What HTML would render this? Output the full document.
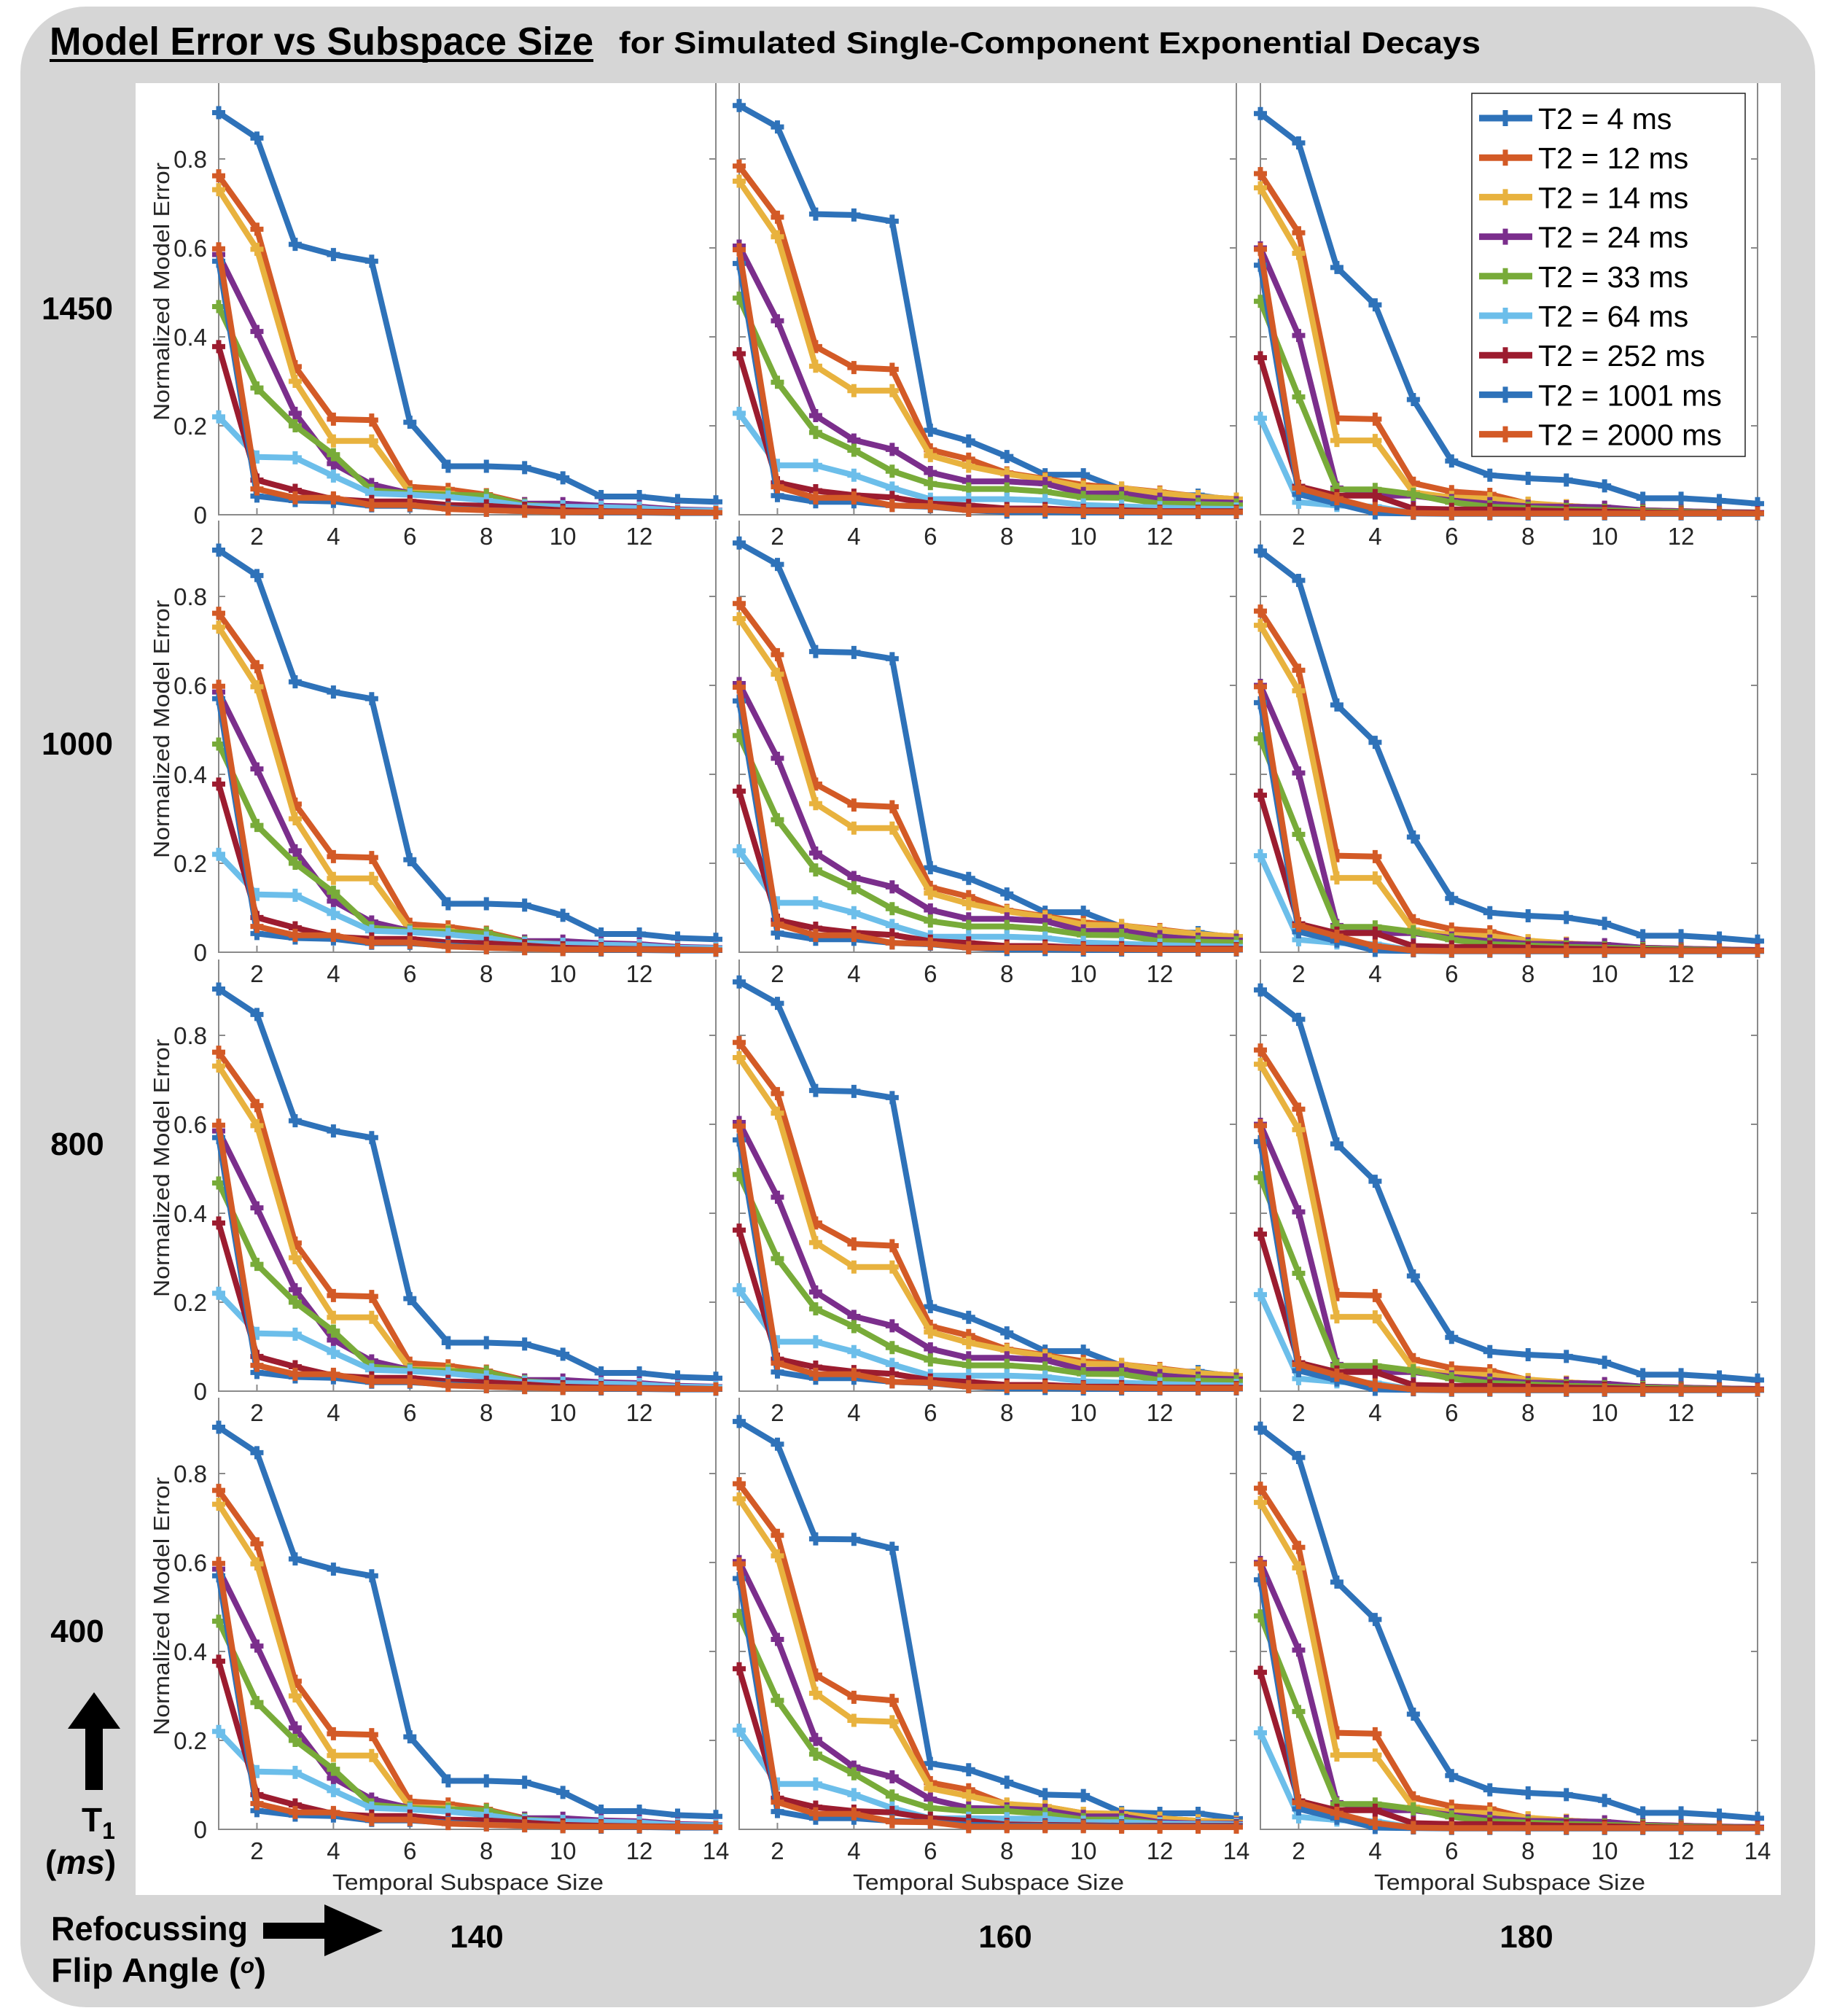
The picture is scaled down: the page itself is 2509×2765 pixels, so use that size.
<!DOCTYPE html>
<html><head><meta charset="utf-8"><style>
html,body{margin:0;padding:0;background:#fff;}
svg{display:block;}
</style></head><body>
<svg id="fig" width="2509" height="2765" viewBox="0 0 2509 2765" xmlns="http://www.w3.org/2000/svg" font-family="'Liberation Sans', sans-serif">
<rect x="28" y="9" width="2462" height="2744" rx="90" ry="90" fill="#d6d6d6"/>
<rect x="186" y="114" width="2257" height="2485" fill="#ffffff"/>
<text x="68" y="75" font-size="54" font-weight="bold" textLength="746" lengthAdjust="spacingAndGlyphs">Model Error vs Subspace Size</text>
<rect x="68" y="81" width="746" height="4" fill="#000"/>
<text x="849" y="73" font-size="42" font-weight="bold" textLength="1182" lengthAdjust="spacingAndGlyphs">for Simulated Single-Component Exponential Decays</text>
<g id="rowlabels"></g>
<g id="panels"></g>
<polygon points="93,2371 129,2321 165,2371 141,2371 141,2455 117,2455 117,2371" fill="#000"/>
<text x="112" y="2512" font-size="46" font-weight="bold">T<tspan font-size="32" dy="10">1</tspan></text>
<text x="62" y="2570" font-size="46" font-weight="bold">(<tspan font-style="italic">ms</tspan>)</text>
<text x="70" y="2661" font-size="46" font-weight="bold" textLength="270" lengthAdjust="spacingAndGlyphs">Refocussing</text>
<text x="70" y="2718" font-size="46" font-weight="bold" textLength="295" lengthAdjust="spacingAndGlyphs">Flip Angle (<tspan font-style="italic" font-size="30" dy="-12">o</tspan><tspan dy="12">)</tspan></text>
<polygon points="361,2637 445,2637 445,2612 525,2648 445,2683 445,2659 361,2659" fill="#000"/>
<text x="654" y="2671" font-size="44" font-weight="bold" text-anchor="middle">140</text>
<text x="1379" y="2671" font-size="44" font-weight="bold" text-anchor="middle">160</text>
<text x="2094" y="2671" font-size="44" font-weight="bold" text-anchor="middle">180</text>
</svg>
<script>
// ---- chart data ----
const subspaceSizes = [1,2,3,4,5,6,7,8,9,10,11,12,13,14];
const seriesNames = ['T2 = 4 ms','T2 = 12 ms','T2 = 14 ms','T2 = 24 ms','T2 = 33 ms','T2 = 64 ms','T2 = 252 ms','T2 = 1001 ms','T2 = 2000 ms'];
const t1Labels = ['1450','1000','800','400'];
const flipLabels = ['140','160','180'];
const yTickValues = [0,0.2,0.4,0.6,0.8];
const yTickLabels = ['0','0.2','0.4','0.6','0.8'];
const xTickValues = [2,4,6,8,10,12,14];

// flip 140 (all T1 rows)
const f140 = [
 [0.904,0.847,0.608,0.585,0.570,0.208,0.109,0.109,0.106,0.083,0.041,0.041,0.032,0.029],
 [0.762,0.642,0.333,0.215,0.213,0.063,0.057,0.045,0.025,0.018,0.015,0.012,0.010,0.008],
 [0.731,0.597,0.300,0.166,0.166,0.050,0.048,0.035,0.022,0.015,0.012,0.010,0.008,0.007],
 [0.585,0.412,0.228,0.115,0.068,0.048,0.040,0.035,0.025,0.025,0.020,0.018,0.012,0.010],
 [0.468,0.285,0.200,0.135,0.055,0.048,0.045,0.043,0.022,0.018,0.015,0.012,0.010,0.008],
 [0.220,0.130,0.128,0.087,0.048,0.045,0.040,0.032,0.020,0.018,0.017,0.015,0.010,0.009],
 [0.378,0.078,0.055,0.035,0.030,0.030,0.022,0.020,0.015,0.010,0.008,0.007,0.006,0.005],
 [0.570,0.042,0.032,0.030,0.020,0.020,0.015,0.010,0.008,0.006,0.005,0.005,0.004,0.004],
 [0.598,0.058,0.038,0.038,0.022,0.022,0.013,0.010,0.008,0.006,0.006,0.006,0.005,0.005]
];
// flip 160 (T1 rows 1450/1000/800)
const f160 = [
 [0.920,0.872,0.676,0.674,0.660,0.190,0.166,0.131,0.090,0.090,0.057,0.044,0.044,0.032],
 [0.784,0.669,0.378,0.331,0.327,0.146,0.125,0.094,0.081,0.067,0.060,0.051,0.041,0.035],
 [0.750,0.625,0.334,0.279,0.279,0.133,0.109,0.092,0.079,0.062,0.060,0.049,0.041,0.035],
 [0.604,0.436,0.223,0.168,0.147,0.095,0.075,0.075,0.070,0.048,0.048,0.035,0.029,0.027],
 [0.487,0.298,0.185,0.145,0.098,0.070,0.058,0.058,0.052,0.039,0.038,0.025,0.024,0.022],
 [0.228,0.111,0.111,0.089,0.060,0.035,0.035,0.035,0.032,0.022,0.019,0.016,0.014,0.013],
 [0.362,0.072,0.054,0.044,0.039,0.025,0.021,0.014,0.014,0.010,0.010,0.008,0.008,0.008],
 [0.565,0.043,0.029,0.029,0.021,0.018,0.010,0.006,0.006,0.005,0.005,0.005,0.005,0.005],
 [0.596,0.063,0.038,0.038,0.021,0.019,0.010,0.010,0.010,0.008,0.007,0.006,0.006,0.006]
];
// flip 160 (T1 row 400)
const f160b = [
 [0.917,0.866,0.653,0.652,0.632,0.148,0.134,0.106,0.078,0.076,0.038,0.036,0.036,0.024],
 [0.777,0.661,0.347,0.297,0.290,0.105,0.089,0.056,0.051,0.036,0.035,0.025,0.019,0.016],
 [0.743,0.615,0.306,0.245,0.242,0.092,0.075,0.057,0.051,0.036,0.035,0.025,0.019,0.016],
 [0.602,0.427,0.202,0.140,0.118,0.068,0.048,0.046,0.043,0.029,0.029,0.016,0.013,0.013],
 [0.481,0.290,0.169,0.125,0.075,0.048,0.041,0.041,0.035,0.022,0.022,0.013,0.011,0.010],
 [0.223,0.102,0.102,0.078,0.048,0.025,0.025,0.024,0.024,0.016,0.016,0.013,0.012,0.011],
 [0.361,0.070,0.050,0.041,0.038,0.025,0.019,0.011,0.010,0.009,0.008,0.008,0.008,0.008],
 [0.564,0.040,0.025,0.025,0.019,0.016,0.010,0.008,0.008,0.007,0.007,0.006,0.006,0.006],
 [0.597,0.061,0.035,0.035,0.017,0.016,0.006,0.006,0.006,0.006,0.005,0.005,0.005,0.005]
];
// flip 180 (all T1 rows)
const f180 = [
 [0.902,0.836,0.556,0.472,0.259,0.121,0.089,0.082,0.078,0.065,0.037,0.037,0.032,0.025],
 [0.767,0.634,0.217,0.215,0.071,0.052,0.046,0.025,0.020,0.015,0.010,0.008,0.006,0.005],
 [0.735,0.588,0.167,0.167,0.050,0.039,0.036,0.026,0.020,0.015,0.010,0.008,0.006,0.005],
 [0.600,0.403,0.060,0.043,0.043,0.032,0.025,0.019,0.018,0.017,0.010,0.008,0.006,0.005],
 [0.480,0.265,0.057,0.057,0.046,0.028,0.018,0.015,0.012,0.010,0.008,0.006,0.005,0.004],
 [0.217,0.028,0.021,0.018,0.004,0.003,0.003,0.002,0.002,0.002,0.002,0.002,0.002,0.002],
 [0.353,0.064,0.043,0.043,0.014,0.012,0.012,0.010,0.008,0.007,0.005,0.004,0.004,0.004],
 [0.561,0.046,0.025,0.004,0.003,0.002,0.002,0.002,0.002,0.002,0.002,0.002,0.002,0.002],
 [0.597,0.060,0.036,0.014,0.004,0.003,0.003,0.003,0.003,0.003,0.003,0.003,0.003,0.003]
];
const panelData = [
 [f140, f160, f180],
 [f140, f160, f180],
 [f140, f160, f180],
 [f140, f160b, f180]
];

// ---- layout ----
const NS = 'http://www.w3.org/2000/svg';
const colors = ['#2E72B9','#D35A26','#E8B23E','#7B2E8C','#78AB39','#6CBEEA','#9C1C2F','#2E72B9','#D35A26'];
const colLeft = [300, 1014, 1729];
const axW = 682;
const rowY0 = [706, 1306, 1908, 2509];
const axH = 592;
const pxPerUnit = 610;
const rowLabelY = [438, 1035, 1584, 2252];
function mk(tag, attrs, parent){ const e=document.createElementNS(NS,tag); for(const k in attrs) e.setAttribute(k,attrs[k]); parent.appendChild(e); return e; }
function xScale(c, v){ return colLeft[c] + (v-1)/13*axW; }
function yScale(r, v){ return rowY0[r] - v*pxPerUnit; }

const rl = document.getElementById('rowlabels');
t1Labels.forEach((lab,r)=>{
  const t = mk('text',{x:106, y:rowLabelY[r], 'font-size':44,'font-weight':'bold','text-anchor':'middle'}, rl);
  
  
  t.textContent = lab;
});

const panels = document.getElementById('panels');
for(let r=0;r<4;r++){
  for(let c=0;c<3;c++){
    const g = mk('g',{}, panels);
    
    
    const L = colLeft[c], R = colLeft[c]+axW, B = rowY0[r], T = rowY0[r]-axH;
    const ax = mk('path',{d:`M${L},${T}V${B}H${R}V${T}`, fill:'none', stroke:'#8a8a8a','stroke-width':2}, g);
    
    
    yTickValues.forEach((v,i)=>{
      const y = yScale(r,v);
      if(v>0){
        const tk = mk('path',{d:`M${L},${y}h9M${R},${y}h-9`, stroke:'#8a8a8a','stroke-width':2}, g);
        
        
      }
      if(c===0){
        const t = mk('text',{x:L-16, y:y+12, 'font-size':33, fill:'#262626','text-anchor':'end'}, g);
        
        
        t.textContent = yTickLabels[i];
      }
    });
    xTickValues.forEach(v=>{
      const x = xScale(c,v);
      if(v<14){
        const tk = mk('path',{d:`M${x},${B}v-9`, stroke:'#8a8a8a','stroke-width':2}, g);
        
        
      }
      if(v<14 || r===3){
        const t = mk('text',{x:x, y:B+41, 'font-size':33, fill:'#262626','text-anchor':'middle'}, g);
        
        
        t.textContent = String(v);
      }
    });
    if(c===0){
      const yc = B-306;
      const t = mk('text',{x:0,y:0,'font-size':31, fill:'#262626','text-anchor':'middle', transform:`translate(232,${yc}) rotate(-90)`, textLength:354, lengthAdjust:'spacingAndGlyphs'}, g);
      
      
      t.textContent = 'Normalized Model Error';
    }
    if(r===3){
      const t = mk('text',{x:L+342, y:B+83,'font-size':31, fill:'#262626','text-anchor':'middle', textLength:372, lengthAdjust:'spacingAndGlyphs'}, g);
      
      
      t.textContent = 'Temporal Subspace Size';
    }
    const data = panelData[r][c];
    data.forEach((vals,s)=>{
      const sg = mk('g',{}, g);
      
      
      const pts = vals.map((v,i)=>xScale(c,subspaceSizes[i]).toFixed(1)+','+yScale(r,v).toFixed(1)).join(' ');
      const pl = mk('polyline',{points:pts, fill:'none', stroke:colors[s],'stroke-width':8,'stroke-linejoin':'round'}, sg);
      
      
      vals.forEach((v,i)=>{
        const x = xScale(c,subspaceSizes[i]), y = yScale(r,v);
        const m = mk('path',{d:`M${x-9},${y}h18M${x},${y-9}v18`, stroke:colors[s],'stroke-width':7}, sg);
        
        
      });
    });
  }
}
const lg = mk('g',{}, panels);


mk('rect',{x:2019,y:128,width:375,height:498,fill:'#fff',stroke:'#222','stroke-width':1.5}, lg);
seriesNames.forEach((n,s)=>{
  const y = 162 + s*54.2;
  const e = mk('g',{}, lg);
  
  
  mk('path',{d:`M2029,${y}H2102`, stroke:colors[s],'stroke-width':9}, e);
  mk('path',{d:`M2055,${y}h20M2065,${y-11}v22`, stroke:colors[s],'stroke-width':7}, e);
  const t = mk('text',{x:2110,y:y+15,'font-size':41, fill:'#000'}, e);
  t.textContent = n;
});
</script>
</body></html>
